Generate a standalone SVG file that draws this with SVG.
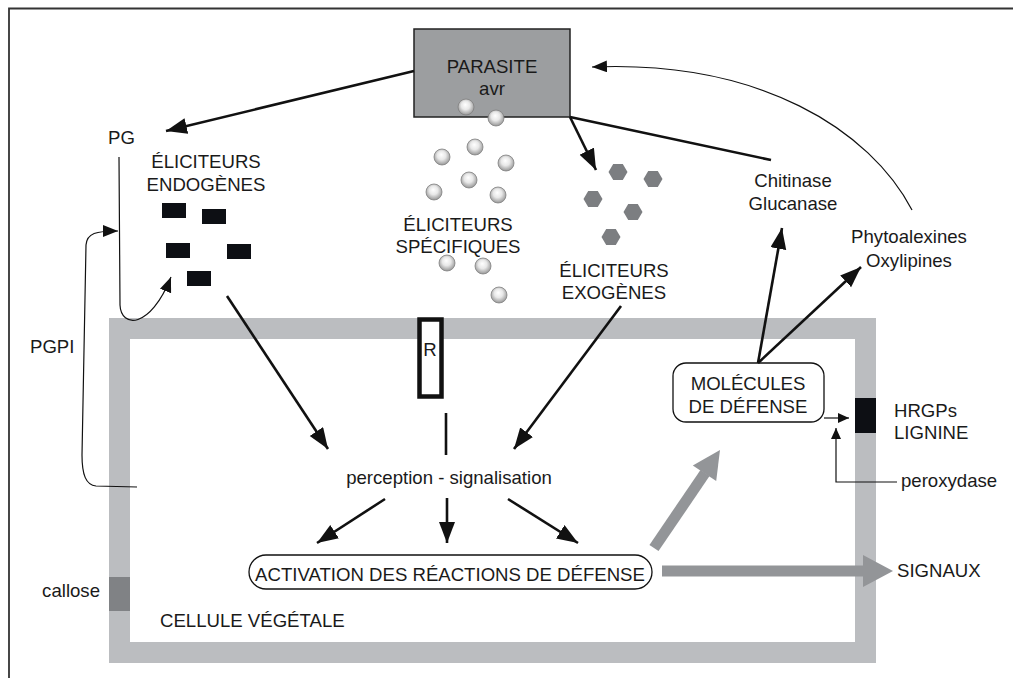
<svg xmlns="http://www.w3.org/2000/svg" width="1013" height="678" viewBox="0 0 1013 678">
<defs>
<style>
text{font-family:"Liberation Sans",Arial,sans-serif;font-size:18.6px;fill:#1a1a1a}
.c{text-anchor:middle}
.thick{stroke:#111;stroke-width:2.6;fill:none}
.thin{stroke:#111;stroke-width:1.2;fill:none}
.sph{fill:url(#sg);stroke:#808080;stroke-width:0.8}
.hex{fill:#7c7e81}
.blk{fill:#0d0f14}
.gray{stroke:#939598;stroke-width:11;fill:none}
</style>
<radialGradient id="sg" cx="0.5" cy="0.45" r="0.6" fx="0.45" fy="0.35">
<stop offset="0" stop-color="#ffffff"/>
<stop offset="0.45" stop-color="#e8e8e8"/>
<stop offset="1" stop-color="#8a8a8a"/>
</radialGradient>
<marker id="ah" markerUnits="userSpaceOnUse" markerWidth="22" markerHeight="18" refX="21" refY="8" orient="auto">
<path d="M0,0 L21,8 L0,16 z" fill="#111"/>
</marker>
<marker id="as" markerUnits="userSpaceOnUse" markerWidth="16" markerHeight="14" refX="15" refY="6" orient="auto">
<path d="M0,0 L15,6 L0,12 z" fill="#111"/>
</marker>
<marker id="ax" markerUnits="userSpaceOnUse" markerWidth="12" markerHeight="12" refX="11" refY="5" orient="auto">
<path d="M0,0 L11,5 L0,10 z" fill="#111"/>
</marker>
<polygon id="hx" points="-9.5,0 -4.8,-8 4.8,-8 9.5,0 4.8,8 -4.8,8"/>
</defs>
<rect width="1013" height="678" fill="#fff"/>
<path d="M9,678 L9,8.5 L1013,8.5" stroke="#333" stroke-width="1.8" fill="none"/>

<g id="cell">
<rect x="119.5" y="328.5" width="746" height="324" fill="none" stroke="#bbbdc0" stroke-width="21"/>
<rect x="109" y="577" width="21" height="34" fill="#808285"/>
<rect x="855" y="398" width="21" height="35" class="blk"/>
<text x="160" y="627">CELLULE VÉGÉTALE</text>
<text x="100" y="597" text-anchor="end">callose</text>
<text x="894" y="417">HRGPs</text>
<text x="894" y="439">LIGNINE</text>
</g>

<g id="parasite">
<rect x="414" y="29" width="156" height="88" fill="#9c9ea0" stroke="#222" stroke-width="1.5"/>
<text x="492" y="73" class="c">PARASITE</text>
<text x="492" y="95" class="c">avr</text>
<circle cx="466" cy="107" r="8" class="sph"/>
<circle cx="496" cy="118" r="8" class="sph"/>
</g>

<g id="pg"><text x="108" y="144">PG</text></g>
<g id="pgpi"><text x="30" y="353">PGPI</text></g>

<g id="endogenes">
<text x="206" y="168" class="c">ÉLICITEURS</text>
<text x="206" y="191" class="c">ENDOGÈNES</text>
<rect x="162" y="203" width="24" height="15" class="blk"/>
<rect x="202" y="209" width="24" height="15" class="blk"/>
<rect x="166" y="243" width="24" height="15" class="blk"/>
<rect x="227" y="244" width="24" height="15" class="blk"/>
<rect x="187" y="271" width="24" height="15" class="blk"/>
</g>

<g id="specifiques">
<circle cx="442" cy="157" r="8" class="sph"/>
<circle cx="475" cy="147" r="8" class="sph"/>
<circle cx="506" cy="163" r="8" class="sph"/>
<circle cx="469" cy="180" r="8" class="sph"/>
<circle cx="434" cy="192" r="8" class="sph"/>
<circle cx="498" cy="195" r="8" class="sph"/>
<text x="458" y="231" class="c">ÉLICITEURS</text>
<text x="458" y="253" class="c">SPÉCIFIQUES</text>
<circle cx="447" cy="263" r="8" class="sph"/>
<circle cx="483" cy="266" r="8" class="sph"/>
<circle cx="499" cy="295" r="8" class="sph"/>
</g>

<g id="exogenes">
<use href="#hx" x="618" y="172" class="hex"/>
<use href="#hx" x="653" y="179" class="hex"/>
<use href="#hx" x="593" y="199" class="hex"/>
<use href="#hx" x="633" y="212" class="hex"/>
<use href="#hx" x="611" y="237" class="hex"/>
<text x="614" y="277" class="c">ÉLICITEURS</text>
<text x="614" y="299" class="c">EXOGÈNES</text>
</g>

<g id="receptor">
<rect x="419.5" y="319.5" width="22" height="77" fill="#fff" stroke="#111" stroke-width="4.5"/>
<text x="430" y="356" class="c">R</text>
</g>

<g id="perception"><text x="449" y="484" class="c">perception - signalisation</text></g>

<g id="activation">
<rect x="249" y="555" width="403" height="34" rx="17" fill="#fff" stroke="#111" stroke-width="1.3"/>
<text x="450" y="581" class="c">ACTIVATION DES RÉACTIONS DE DÉFENSE</text>
</g>

<g id="molecules">
<rect x="673" y="363" width="151" height="59" rx="13" fill="#fff" stroke="#111" stroke-width="1.3"/>
<text x="748" y="390" class="c">MOLÉCULES</text>
<text x="748" y="413" class="c">DE DÉFENSE</text>
</g>

<g id="chitinase">
<text x="793" y="187" class="c">Chitinase</text>
<text x="793" y="210" class="c">Glucanase</text>
</g>
<g id="phytoalexines">
<text x="909" y="243" class="c">Phytoalexines</text>
<text x="909" y="267" class="c">Oxylipines</text>
</g>
<g id="peroxydase"><text x="901" y="487">peroxydase</text></g>
<g id="signaux"><text x="897" y="577">SIGNAUX</text></g>

<g id="connectors">
<line x1="414" y1="71" x2="166" y2="131" class="thick" marker-end="url(#ah)"/>
<line x1="570" y1="117" x2="596" y2="170" class="thick" marker-end="url(#ah)"/>
<line x1="570" y1="117" x2="771" y2="160" class="thick"/>
<path d="M912,210 C870,130 760,60 592,67" class="thin" marker-end="url(#as)"/>
<path d="M119,157 L120,305 C121,328 150,330 171,277" class="thin" marker-end="url(#as)"/>
<path d="M137,487 L96,486 C86,485 82,475 82,455 L86,245 C87,233 96,231 118,231" class="thin" marker-end="url(#as)"/>
<line x1="227" y1="296" x2="328" y2="449" class="thick" marker-end="url(#ah)"/>
<line x1="621" y1="306" x2="514" y2="449" class="thick" marker-end="url(#ah)"/>
<line x1="446" y1="413" x2="446" y2="455" class="thick"/>
<line x1="385" y1="499" x2="317" y2="543" class="thick" marker-end="url(#ah)"/>
<line x1="447" y1="498" x2="447" y2="543" class="thick" marker-end="url(#ah)"/>
<line x1="508" y1="499" x2="578" y2="543" class="thick" marker-end="url(#ah)"/>
<line x1="758" y1="363" x2="782" y2="228" class="thick" marker-end="url(#ah)"/>
<line x1="758" y1="363" x2="861" y2="267" class="thick" marker-end="url(#ah)"/>
<line x1="824" y1="418" x2="849" y2="418" class="thin" marker-end="url(#ax)"/>
<path d="M897,482 L836,482 L836,428" class="thin" marker-end="url(#ax)"/>
<line x1="654" y1="548" x2="705" y2="473" class="gray"/>
<polygon points="720,450 716.2,481 692.8,465.6" fill="#939598"/>
<line x1="662" y1="571" x2="865" y2="571" class="gray"/>
<polygon points="863,555 893,571 863,587" fill="#939598"/>
</g>
</svg>
